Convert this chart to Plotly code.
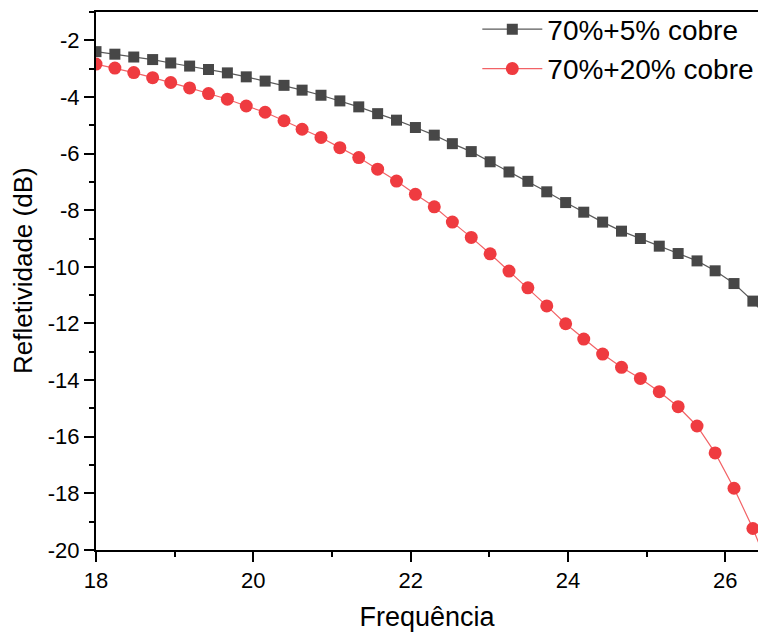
import plotly.graph_objects as go

freq = [18.00, 18.24, 18.48, 18.72, 18.95, 19.19, 19.43, 19.67, 19.91, 20.15,
        20.39, 20.62, 20.86, 21.10, 21.34, 21.58, 21.82, 22.06, 22.30, 22.53,
        22.77, 23.01, 23.25, 23.49, 23.73, 23.97, 24.20, 24.44, 24.68, 24.92,
        25.16, 25.40, 25.64, 25.87, 26.11, 26.35, 26.59]

cobre5 = [-2.40, -2.49, -2.59, -2.68, -2.80, -2.91, -3.03, -3.15, -3.29, -3.44,
          -3.59, -3.76, -3.94, -4.14, -4.35, -4.59, -4.82, -5.08, -5.35, -5.65,
          -5.93, -6.29, -6.65, -6.98, -7.35, -7.73, -8.07, -8.42, -8.74, -9.00,
          -9.27, -9.53, -9.79, -10.14, -10.59, -11.21, -12.00]

cobre20 = [-2.84, -2.98, -3.14, -3.32, -3.49, -3.68, -3.88, -4.08, -4.32, -4.54,
           -4.84, -5.14, -5.43, -5.79, -6.14, -6.55, -6.97, -7.44, -7.88, -8.42,
           -8.96, -9.54, -10.15, -10.74, -11.38, -12.01, -12.55, -13.08, -13.55, -13.94,
           -14.41, -14.94, -15.62, -16.57, -17.82, -19.24, -20.90]

names = ["70%+5% cobre", "70%+20% cobre"]

x_ticks = [18, 20, 22, 24, 26]
x_ticklabels = ["18", "20", "22", "24", "26"]
y_ticks = [-20, -18, -16, -14, -12, -10, -8, -6, -4, -2]
y_ticklabels = ["-20", "-18", "-16", "-14", "-12", "-10", "-8", "-6", "-4", "-2"]

FONT = "Arial, Liberation Sans, sans-serif"

fig = go.Figure()
fig.add_trace(go.Scatter(
    x=freq, y=cobre5, name=names[0], mode="lines+markers",
    line=dict(color="#5a5a5a", width=1.2),
    marker=dict(symbol="square", size=11, color="#474747"),
))
fig.add_trace(go.Scatter(
    x=freq, y=cobre20, name=names[1], mode="lines+markers",
    line=dict(color="#f26266", width=1.2),
    marker=dict(symbol="circle", size=13, color="#ef3b40"),
))

axis_common = dict(
    showline=True, linecolor="black", linewidth=2,
    ticks="outside", ticklen=10, tickwidth=2, tickcolor="black",
    showgrid=False, zeroline=False, automargin=False,
    tickfont=dict(family=FONT, size=22, color="black"),
)

fig.update_xaxes(
    range=[18, 26.415], tickvals=x_ticks, ticktext=x_ticklabels, mirror=True,
    minor=dict(tickvals=[19, 21, 23, 25], ticks="outside", ticklen=5, tickwidth=2, tickcolor="black"),
    title=dict(text="Frequência", font=dict(family=FONT, size=27, color="black"), standoff=19),
    **axis_common,
)
fig.update_yaxes(
    range=[-20, -1], tickvals=y_ticks, ticktext=y_ticklabels,
    minor=dict(tickvals=[-19, -17, -15, -13, -11, -9, -7, -5, -3, -1],
               ticks="outside", ticklen=5, tickwidth=2, tickcolor="black"),
    **axis_common,
)

fig.add_annotation(
    text="Refletividade (dB)", textangle=-90,
    xref="paper", yref="paper", x=-(96 - 23) / 662, y=(550 - 271) / 538,
    xanchor="center", yanchor="middle", showarrow=False,
    font=dict(family=FONT, size=26, color="black"),
)

fig.update_layout(
    width=758, height=632,
    margin=dict(l=96, r=0, t=12, b=82, autoexpand=False),
    plot_bgcolor="white", paper_bgcolor="white",
    font=dict(family=FONT, color="black"),
    showlegend=True,
    legend=dict(
        x=0.576, y=1.014, xanchor="left", yanchor="top",
        bgcolor="rgba(0,0,0,0)", borderwidth=0,
        font=dict(family=FONT, size=28, color="black"),
        itemwidth=60, tracegroupgap=0,
    ),
)

fig.write_html(
    "out.html",
    config={"displayModeBar": False},
    post_script="document.body.style.margin='0';document.body.style.overflow='hidden';",
)
